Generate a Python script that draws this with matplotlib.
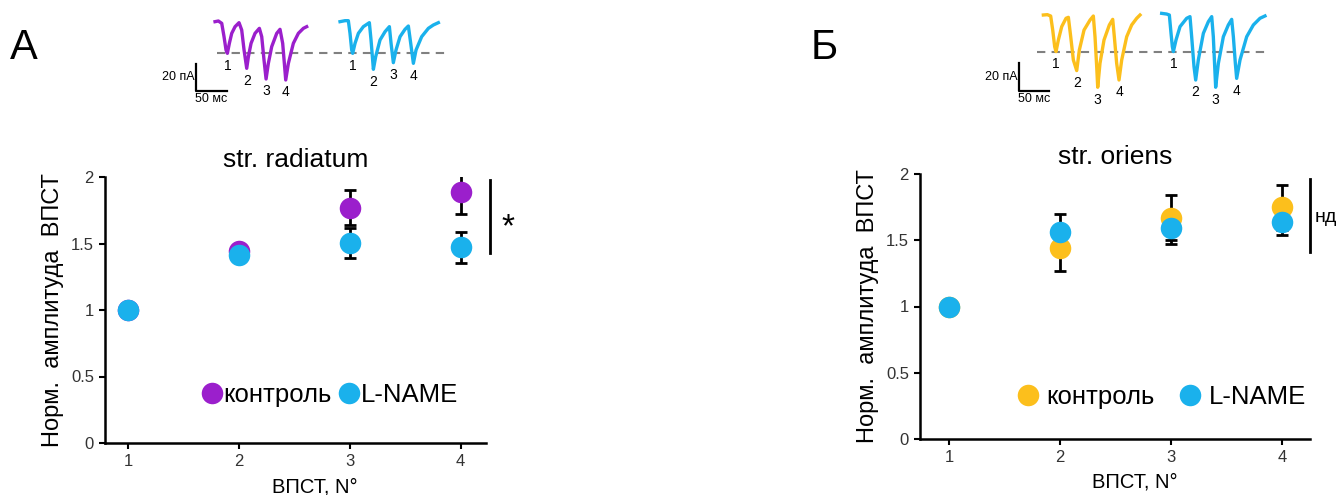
import matplotlib
matplotlib.use("Agg")
import matplotlib.pyplot as plt
from matplotlib.lines import Line2D
import numpy as np

plt.rcParams['font.family'] = ['Liberation Sans', 'DejaVu Sans']

# ---------------- data ----------------
pulses = [1, 2, 3, 4]

rad_ctrl = [1.0, 1.44, 1.77, 1.89]
rad_ctrl_err = [0.0, 0.02, 0.13, 0.17]
rad_lname = [1.0, 1.415, 1.505, 1.47]
rad_lname_err = [0.0, 0.02, 0.115, 0.115]

ori_ctrl = [1.0, 1.44, 1.67, 1.75]
ori_ctrl_err = [0.0, 0.17, 0.17, 0.17]
ori_lname = [1.0, 1.56, 1.59, 1.64]
ori_lname_err = [0.0, 0.14, 0.12, 0.10]

yticks = [0, 0.5, 1, 1.5, 2]
ytick_labels = ["0", "0.5", "1", "1.5", "2"]
xtick_labels = ["1", "2", "3", "4"]

# example traces (time ms, current pA)
rad_ctrl_t = [0, 5.4, 10.8, 14.5, 17.7, 19.9, 23.1, 26.9, 32.3, 38.7, 43.0, 46.8, 51.1, 53.8,
              58.1, 64.5, 71.5, 75.3, 79.0, 82.3, 86.0, 91.4, 99.5, 104.8, 109.1, 111.8, 114.0,
              118.3, 126.3, 134.4, 142.5, 147.8]
rad_ctrl_i = [0, 0.5, -1.25, -11.25, -21.25, -23.75, -16.25, -8.75, -3.75, -0.75, -6.25, -21.25,
              -35.0, -26.25, -16.25, -8.75, -5.0, -11.25, -28.75, -43.0, -31.25, -18.75, -8.75,
              -5.75, -16.25, -31.25, -43.75, -31.25, -16.25, -8.75, -5.0, -3.75]
rad_lname_t = [0, 8.1, 13.4, 16.1, 18.8, 20.4, 24.2, 29.6, 37.6, 47.3, 50.0, 53.8, 57.5, 64.5,
               72.6, 79.6, 82.3, 86.0, 90.3, 96.8, 104.8, 110.2, 114.0, 118.3, 122.6, 131.7,
               142.5, 150.5, 158.6]
rad_lname_i = [0, 0.75, 0.75, -8.75, -21.25, -23.75, -16.25, -8.75, -3.75, -0.75, -13.75, -35.75,
               -26.25, -13.75, -7.5, -3.75, -16.25, -30.75, -21.25, -11.25, -5.75, -3.25, -16.25,
               -31.25, -21.25, -11.25, -5.0, -2.5, -0.75]

ori_ctrl_t = [0, 6.7, 12.2, 15.6, 18.9, 21.1, 25.0, 30.6, 37.8, 41.7, 45.6, 50.0, 55.6, 60.0,
              67.8, 77.8, 83.3, 86.1, 88.9, 90.6, 94.4, 101.1, 110.0, 115.6, 118.3, 122.2, 126.1,
              130.6, 138.9, 147.2, 155.6, 161.1]
ori_ctrl_i = [0, 0.25, -0.75, -11.0, -23.2, -26.8, -18.3, -8.5, -2.4, -1.7, -15.9, -32.9, -40.7,
              -25.6, -11.0, -3.7, -0.75, -15.9, -37.8, -52.9, -35.4, -18.3, -7.3, -3.2, -15.9,
              -35.4, -47.6, -32.9, -15.9, -7.3, -2.4, 0]
ori_lname_t = [0, 8.4, 12.8, 15.6, 17.8, 19.5, 23.9, 30.6, 41.7, 47.2, 50.0, 53.9, 56.7, 61.1,
               69.5, 77.8, 83.4, 86.1, 88.4, 90.0, 94.5, 102.8, 111.1, 116.7, 119.5, 122.8, 125.0,
               130.6, 141.7, 152.8, 163.9, 172.2]
ori_lname_i = [1.2, 0.7, 0, -13.4, -23.2, -26.8, -18.3, -8.5, -2.4, -1.2, -15.9, -37.8, -47.6,
               -32.9, -13.4, -4.9, -1.2, -15.9, -37.8, -52.9, -35.4, -15.9, -7.3, -3.2, -15.9,
               -35.4, -46.4, -32.9, -15.9, -7.3, -2.4, -0.7]

PURPLE = "#9b1fcc"
BLUE = "#1ab1ec"
YELLOW = "#fcbf1c"

W, H = 1341, 495
fig = plt.figure(figsize=(W / 100, H / 100), dpi=100)


def px_axes(x0, y0, x1, y1):
    return fig.add_axes([x0 / W, 1 - y1 / H, (x1 - x0) / W, (y1 - y0) / H])


def main_panel(box, xlim, ctrl, ctrl_err, lname, lname_err, ctrl_color, title, leg_kw):
    ax = px_axes(*box)
    ax.set_xlim(*xlim)
    ax.set_ylim(0, 2)
    for v, e in ((ctrl, ctrl_err), (lname, lname_err)):
        ax.errorbar(pulses, v, yerr=e, fmt='none', ecolor='black', elinewidth=2,
                    capsize=4, capthick=2, zorder=2)
    ax.plot(pulses, ctrl, 'o', color=ctrl_color, markersize=15.5, zorder=3, mec='none')
    ax.plot(pulses, lname, 'o', color=BLUE, markersize=15.5, zorder=4, mec='none')
    for s in ('top', 'right'):
        ax.spines[s].set_visible(False)
    for s in ('left', 'bottom'):
        ax.spines[s].set_linewidth(1.8)
    ax.set_xticks(pulses)
    ax.set_xticklabels(xtick_labels)
    ax.set_yticks(yticks)
    ax.set_yticklabels(ytick_labels)
    ax.tick_params(axis='both', length=4, width=1.5, labelsize=12, labelcolor='#333333',
                   direction='out', pad=4)
    ax.set_ylabel("Норм.  амплитуда  ВПСТ", fontsize=17, labelpad=5)
    ax.set_xlabel("ВПСТ, N°", fontsize=14.5, va='top')
    ax.xaxis.set_label_coords(0.55, -0.128)
    ax.set_title(title, fontsize=19, pad=7)
    handles = [Line2D([], [], ls='none', marker='o', markersize=15.5, color=ctrl_color, mec='none'),
               Line2D([], [], ls='none', marker='o', markersize=15.5, color=BLUE, mec='none')]
    ax.legend(handles, ["контроль", "L-NAME"], loc='center', ncol=2, frameon=False,
              fontsize=18.5, handlelength=0.8, borderpad=0, borderaxespad=0, **leg_kw)
    return ax


axL = main_panel((105, 177, 486, 443), (0.79, 4.23), rad_ctrl, rad_ctrl_err, rad_lname,
                 rad_lname_err, PURPLE, "str. radiatum",
                 dict(bbox_to_anchor=(0.59, 0.18), handletextpad=0.05, columnspacing=0.3))
axR = main_panel((920, 174, 1310, 439), (0.74, 4.25), ori_ctrl, ori_ctrl_err, ori_lname,
                 ori_lname_err, YELLOW, "str. oriens",
                 dict(bbox_to_anchor=(0.62, 0.16), handletextpad=0.3, columnspacing=1.0))

# significance brackets
axL.plot([4.27, 4.27], [1.43, 1.98], color='black', lw=2, clip_on=False)
axR.plot([4.25, 4.25], [1.41, 1.96], color='black', lw=2, clip_on=False)
axL.text(4.37, 1.62, "*", fontsize=24, ha='left', va='center', clip_on=False)
axR.text(4.29, 1.67, "нд", fontsize=14, ha='left', va='center', clip_on=False)

# panel letters
fig.text(24 / W, 1 - 48 / H, "А", fontsize=30, ha='center', va='center')
fig.text(824 / W, 1 - 48 / H, "Б", fontsize=30, ha='center', va='center')


def inset(box, xlim, ylim, traces, dash_y, dash_x, bar_x, bar_y):
    ax = px_axes(*box)
    ax.set_xlim(*xlim)
    ax.set_ylim(*ylim)
    ax.axis('off')
    ax.plot(dash_x, [dash_y, dash_y], ls=(0, (4, 3)), color='#808080', lw=1.5, zorder=1)
    for t, i, off, col in traces:
        t = np.asarray(t) + off
        i = np.asarray(i)
        ax.plot(t, i, color=col, lw=2.4, zorder=2, solid_joinstyle='round')
        mins = [k for k in range(1, len(i) - 1) if i[k] < i[k - 1] and i[k] < i[k + 1]]
        for n, k in enumerate(mins):
            ax.text(t[k], i[k] - 4, str(n + 1), fontsize=10, ha='center', va='top')
    # scale bar 50 ms / 20 pA
    ax.plot([bar_x, bar_x, bar_x + 50], [bar_y + 20, bar_y, bar_y], color='black', lw=1.6)
    ax.text(bar_x - 3, bar_y + 10, "20 пА", fontsize=9, ha='right', va='center')
    ax.text(bar_x + 25, bar_y - 2, "50 мс", fontsize=9, ha='center', va='top')


inset((150, 0, 460, 115), (-104.9, 395.1), (-70.0, 16.25),
      [(rad_ctrl_t, rad_ctrl_i, 0, PURPLE), (rad_lname_t, rad_lname_i, 201.6, BLUE)],
      -23.75, [2.7, 373.6], -30.6, -51.75)
inset((980, 0, 1290, 115), (-105.6, 411.1), (-73.2, 10.98),
      [(ori_ctrl_t, ori_ctrl_i, 0, YELLOW), (ori_lname_t, ori_lname_i, 197.2, BLUE)],
      -27.3, [-11.1, 372.2], -40.0, -55.4)

fig.savefig("out.png", dpi=100)
